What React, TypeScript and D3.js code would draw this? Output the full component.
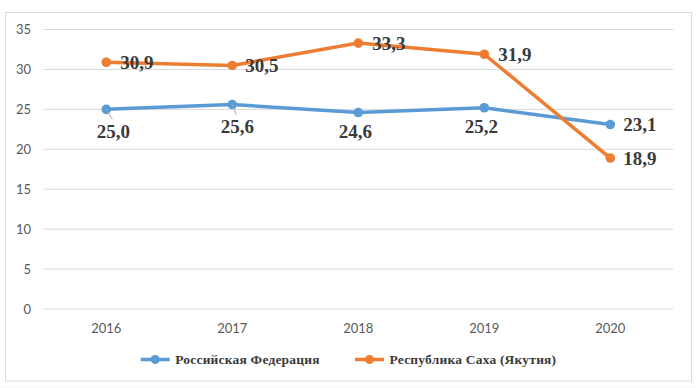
import React from "react";
import * as d3 from "d3";

const years = ["2016", "2017", "2018", "2019", "2020"];
const russia = [25.0, 25.6, 24.6, 25.2, 23.1];
const sakha = [30.9, 30.5, 33.3, 31.9, 18.9];
const yTicks = [0, 5, 10, 15, 20, 25, 30, 35];
const seriesNames = ["Российская Федерация", "Республика Саха (Якутия)"];

const W = 700;
const H = 388;
const BLUE = "#5B9BD5";
const ORANGE = "#ED7D31";
const LABEL = "#3a3a3a";

// label placement per point (px offsets from the marker)
const russiaLabelPos = [
  { dx: 7, dy: 22, anchor: "middle", leader: true },
  { dx: 5, dy: 22, anchor: "middle", leader: true },
  { dx: -3, dy: 19, anchor: "middle", leader: false },
  { dx: -3, dy: 19, anchor: "middle", leader: false },
  { dx: 13, dy: 0, anchor: "start", leader: false },
];
const sakhaLabelPos = [
  { dx: 14, dy: 0, anchor: "start" },
  { dx: 13, dy: 0, anchor: "start" },
  { dx: 14, dy: 0, anchor: "start" },
  { dx: 14, dy: 0, anchor: "start" },
  { dx: 13, dy: 0, anchor: "start" },
];

const fmt = (v: number) => v.toFixed(1).replace(".", ",");

export default function App() {
  const x = d3.scalePoint<string>().domain(years).range([43.3, 673.3]).padding(0.5);
  const y = d3.scaleLinear().domain([0, 35]).range([309, 29.5]);

  const line = d3
    .line<number>()
    .x((_, i) => x(years[i]) as number)
    .y((d) => y(d));

  const series = [
    { name: seriesNames[0], values: russia, color: BLUE, pos: russiaLabelPos },
    { name: seriesNames[1], values: sakha, color: ORANGE, pos: sakhaLabelPos },
  ];

  const axisFont = "Lato, 'Open Sans', sans-serif";
  const serif = "'Liberation Serif', 'Times New Roman', serif";

  return (
    <div style={{ position: "fixed", left: 0, top: 0 }}>
      <svg width={W} height={H} style={{ display: "block", background: "#fff" }}>
        <rect x={5.5} y={12.5} width={686} height={368.5} fill="#fff" stroke="#d9d9d9" strokeWidth={1} />
        <line x1={0} x2={W} y1={386.5} y2={386.5} stroke="#e4e4e4" strokeDasharray="1 3" />

        {yTicks.map((t) => (
          <g key={t}>
            <line x1={43.3} x2={673.3} y1={y(t)} y2={y(t)} stroke="#d9d9d9" strokeWidth={1} />
            <text x={31} y={y(t)} dy="0.35em" textAnchor="end" fontFamily={axisFont} fontSize={13} fill="#595959">
              {t}
            </text>
          </g>
        ))}

        {years.map((yr) => (
          <text
            key={yr}
            x={x(yr)}
            y={328}
            dy="0.35em"
            textAnchor="middle"
            fontFamily={axisFont}
            fontSize={13}
            fill="#595959"
          >
            {yr}
          </text>
        ))}

        {series.map((s) => (
          <g key={s.name}>
            <path d={line(s.values) || ""} fill="none" stroke={s.color} strokeWidth={3.5} strokeLinejoin="round" />
            {s.values.map((v, i) => (
              <circle key={i} cx={x(years[i])} cy={y(v)} r={4.8} fill={s.color} />
            ))}
          </g>
        ))}

        {series.map((s) =>
          s.values.map((v, i) => {
            const p = s.pos[i] as any;
            const cx = x(years[i]) as number;
            const cy = y(v);
            return (
              <g key={s.name + i}>
                {p.leader && (
                  <line x1={cx} y1={cy} x2={cx + p.dx - 1} y2={cy + p.dy - 12} stroke="#a6a6a6" strokeWidth={1} />
                )}
                <text
                  x={cx + p.dx}
                  y={cy + p.dy}
                  dy="0.35em"
                  textAnchor={p.anchor}
                  fontFamily={serif}
                  fontWeight="bold"
                  fontSize={19}
                  fill={LABEL}
                >
                  {fmt(v)}
                </text>
              </g>
            );
          })
        )}

        {series.map((s, i) => {
          const lx = i === 0 ? 140.7 : 355;
          const ly = 359.5;
          return (
            <g key={"lg" + i}>
              <line x1={lx} x2={lx + 29} y1={ly} y2={ly} stroke={s.color} strokeWidth={3.5} />
              <circle cx={lx + 14.5} cy={ly} r={4.5} fill={s.color} />
              <text
                x={lx + 34.5}
                y={ly}
                dy="0.35em"
                fontFamily={serif}
                fontWeight="bold"
                fontSize={13.5}
                fill={LABEL}
                letterSpacing={0.2}
              >
                {s.name}
              </text>
            </g>
          );
        })}
      </svg>
    </div>
  );
}
